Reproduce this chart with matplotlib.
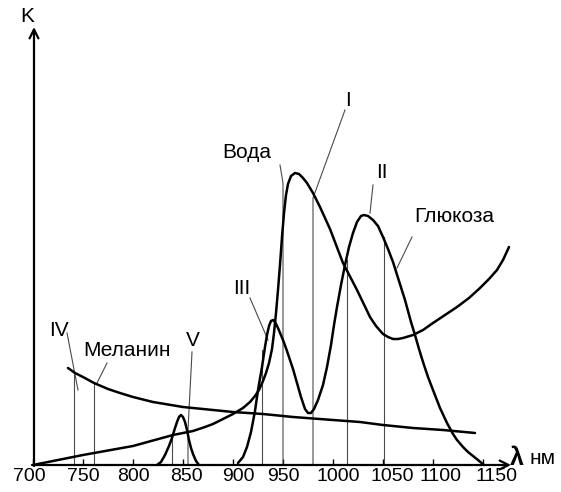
import matplotlib
matplotlib.use("Agg")
import matplotlib.pyplot as plt
from matplotlib.transforms import ScaledTranslation

plt.rcParams['font.family'] = ['Liberation Sans', 'DejaVu Sans']

# Absorption curves K(λ), arbitrary units
water_wl = [700, 750, 800, 840, 860, 872, 880, 890, 900, 910, 917, 922, 926, 930,
            933, 936, 939, 941, 943, 945, 947, 949, 951, 953, 955, 958, 962, 966,
            970, 974, 980, 987, 997, 1010, 1024, 1037, 1043, 1050, 1055, 1060,
            1065, 1070, 1080, 1090, 1100, 1112, 1124, 1136, 1147, 1156, 1164,
            1170, 1176]
water_k = [0, 10, 19, 30, 34, 38, 41, 46, 51, 57, 63, 69, 75, 84,
           92, 102, 116, 132, 152, 175, 200, 228, 252, 270, 281, 289, 292, 291,
           287, 282, 272, 258, 236, 202, 175, 148, 139, 131, 128, 126,
           126, 127, 130, 135, 142, 150, 158, 167, 177, 186, 195,
           205, 218]

glucose_v_wl = [824, 828, 832, 836, 839, 842, 844, 846, 848, 850, 852, 854, 856,
                858, 860, 863, 866]
glucose_v_k = [0, 3, 10, 19, 27, 37, 43, 48, 50, 48, 43, 35, 25, 17, 11, 4, 0]

glucose_wl = [905, 910, 914, 918, 922, 925, 929, 932, 934, 936, 938, 940, 942,
              945, 950, 954, 960, 964, 968, 972, 975, 978, 981, 985, 990, 994,
              998, 1001, 1004, 1008, 1012, 1016, 1020, 1024, 1028, 1031, 1035,
              1040, 1045, 1050, 1055, 1060, 1066, 1072, 1078, 1082, 1086, 1090,
              1095, 1100, 1107, 1114, 1120, 1124, 1130, 1135, 1140, 1145, 1151]
glucose_k = [2, 8, 18, 33, 54, 75, 98, 118, 130, 139, 144, 145, 143,
             137, 125, 114, 96, 82, 68, 56, 52, 52, 56, 65, 80, 98,
             120, 140, 158, 180, 200, 218, 232, 243, 249, 250, 249,
             245, 239, 228, 216, 203, 184, 165, 143, 130, 116, 103,
             88, 75, 57, 42, 31, 25, 18, 13, 9, 5, 0]

melanin_wl = [735, 742, 750, 761, 775, 787, 800, 820, 850, 880, 900, 930, 960,
              1000, 1027, 1050, 1080, 1110, 1142]
melanin_k = [97, 92, 88, 82, 76, 72, 68, 63, 58, 55, 53, 51, 48,
             45, 43, 40, 37, 35, 32]

# Marker wavelengths (vertical lines) and how high they reach
mark_wl = [741, 761, 839, 929, 1014, 1051]
mark_top = [92, 82, 27, 115, 205, 228]

# Leader lines from labels to curves
leaders = {
    "Вода": ([947, 950, 950], [300, 282, 0]),
    "I": ([1012, 980, 980], [355, 267, 0]),
    "II": ([1040, 1037], [280, 252]),
    "III": ([917, 935], [167, 125]),
    "IV": ([734, 745], [132, 75]),
    "Меланин": ([774, 764], [102, 82]),
    "V": ([859, 855, 855], [113, 35, 0]),
    "Глюкоза": ([1079, 1064], [228, 197]),
}
label_pos = {
    "Вода": (914, 313),
    "I": (1015, 365),
    "II": (1049, 292),
    "III": (909, 177),
    "IV": (726, 135),
    "Меланин": (794, 115),
    "V": (860, 124),
    "Глюкоза": (1121, 249),
}

tick_values = [700, 750, 800, 850, 900, 950, 1000, 1050, 1100, 1150]
# horizontal nudge of each tick label, in pixels
tick_label_shift = [-4, 0, 0, 3, 5, 0, 5, 9, 8, 14]

fig = plt.figure(figsize=(5.61, 4.92), dpi=100)
ax = fig.add_axes([0, 0, 1, 1])
ax.set_xlim(667, 1228)
ax.set_ylim(-27, 465)

thin = dict(color="#4a4a4a", lw=0.8)
for wl, top in zip(mark_wl, mark_top):
    ax.plot([wl, wl], [0, top], **thin)
for name, (xs, ys) in leaders.items():
    ax.plot(xs, ys, **thin)

curve = dict(color="black", lw=1.8, solid_capstyle="round", solid_joinstyle="round")
ax.plot(water_wl, water_k, **curve)
ax.plot(glucose_v_wl, glucose_v_k, **curve)
ax.plot(glucose_wl, glucose_k, **curve)
ax.plot(melanin_wl, melanin_k, **curve)

for name, (x, y) in label_pos.items():
    ax.text(x, y, name, ha="center", va="center", fontsize=15)

# Axes with open arrowheads
ax.annotate("", xy=(1178, 0), xytext=(699, 0),
            arrowprops=dict(arrowstyle="->", lw=1.6, color="black",
                            mutation_scale=16, shrinkA=0, shrinkB=0))
ax.annotate("", xy=(701, 438), xytext=(701, -1),
            arrowprops=dict(arrowstyle="->", lw=1.6, color="black",
                            mutation_scale=16, shrinkA=0, shrinkB=0))

for s in ax.spines.values():
    s.set_visible(False)
ax.spines['bottom'].set_position(('data', 0))
ax.set_xticks(tick_values)
ax.set_xticklabels([str(v) for v in tick_values])
ax.set_yticks([])
ax.tick_params(axis='x', direction='in', length=4, width=1.0, pad=2,
               labelsize=14, bottom=True, top=False)
for lab, dx in zip(ax.get_xticklabels(), tick_label_shift):
    lab.set_transform(lab.get_transform() +
                      ScaledTranslation(dx / 100, 0, fig.dpi_scale_trans))

ax.text(694, 449, "K", ha="center", va="center", fontsize=15)
ax.text(1184, 7, "λ", ha="center", va="center", fontsize=18, fontweight="bold")
ax.text(1210, 6, "нм", ha="center", va="center", fontsize=15)

fig.savefig("out.png", dpi=100, facecolor="white")
